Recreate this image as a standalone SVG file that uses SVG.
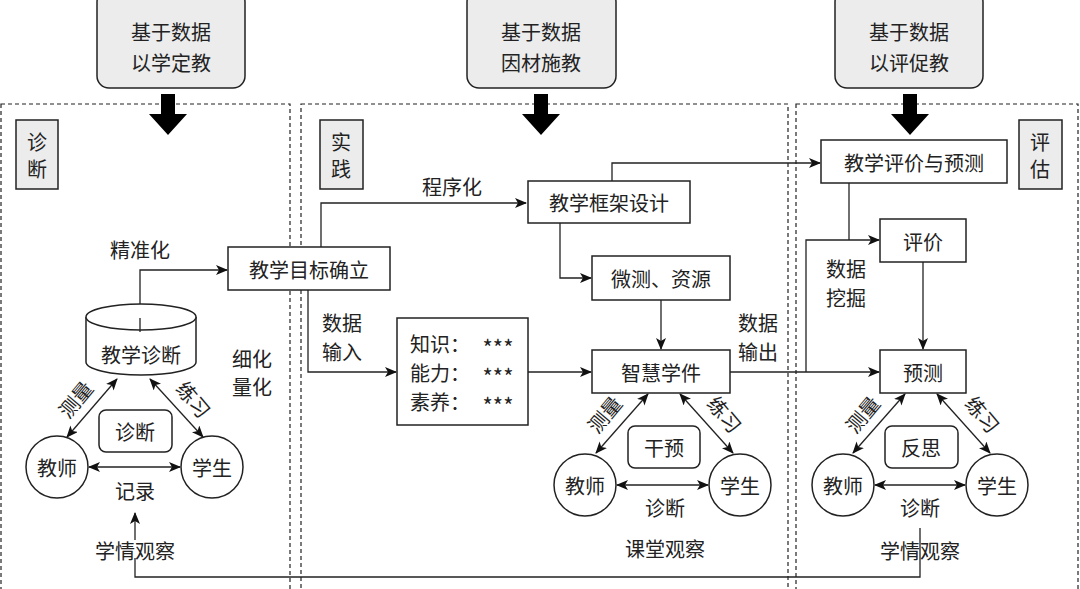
<svg xmlns="http://www.w3.org/2000/svg" width="1080" height="589" viewBox="0 0 1080 589">
<defs>
<marker id="a" viewBox="0 0 12 10" refX="11" refY="5" markerWidth="12" markerHeight="10" markerUnits="userSpaceOnUse" orient="auto-start-reverse"><path d="M0,0 L12,5 L0,10 L3,5 Z" fill="#111"/></marker>
</defs>
<style>
text{font-family:"Noto Sans CJK SC","Liberation Sans",sans-serif;font-size:20px;fill:#222;text-anchor:middle;dominant-baseline:central}
.b{fill:#fff;stroke:#222;stroke-width:1.5}
.g{fill:#ececec;stroke:#222;stroke-width:1.5}
.l{fill:none;stroke:#222;stroke-width:1.3}
.ar{marker-end:url(#a)}
.bi{marker-start:url(#a);marker-end:url(#a)}
.d{fill:none;stroke:#222;stroke-width:1.2;stroke-dasharray:4,3}
.big{fill:#000}
.st{font-size:22px}
</style>
<rect width="1080" height="589" fill="#fff"/>
<g id="panels">
<rect class="d" x="1" y="104" width="289" height="490"/>
<rect class="d" x="301" y="104" width="487" height="490"/>
<rect class="d" x="796" y="104" width="282" height="490"/>
</g>
<g id="top1"><rect class="g" x="97" y="-10" width="148" height="98" rx="12"/><text x="171" y="31">基于数据</text><text x="171" y="62">以学定教</text></g>
<g id="top2"><rect class="g" x="467" y="-10" width="149" height="98" rx="12"/><text x="541" y="31">基于数据</text><text x="541" y="62">因材施教</text></g>
<g id="top3"><rect class="g" x="835" y="-10" width="148" height="98" rx="12"/><text x="909" y="31">基于数据</text><text x="909" y="62">以评促教</text></g>
<g id="bigarrows">
<path class="big" d="M161,94 h14 v20 h12 l-19,21 l-19,-21 h12 z"/>
<path class="big" d="M534,94 h14 v20 h12 l-19,21 l-19,-21 h12 z"/>
<path class="big" d="M903,94 h14 v20 h12 l-19,21 l-19,-21 h12 z"/>
</g>
<g id="lab1"><rect class="g" x="16" y="120" width="42" height="69"/><text x="37" y="141">诊</text><text x="37" y="168">断</text></g>
<g id="lab2"><rect class="g" x="320" y="120" width="43" height="69"/><text x="341" y="141">实</text><text x="341" y="168">践</text></g>
<g id="lab3"><rect class="g" x="1019" y="120" width="43" height="69"/><text x="1040" y="141">评</text><text x="1040" y="168">估</text></g>
<g id="connectors">
<path class="l ar" d="M140,318 V270 H227"/>
<path class="l ar" d="M321,247 V203 H526"/>
<path class="l ar" d="M612,181 V163 H820"/>
<path class="l ar" d="M560,223 V278 H591"/>
<path class="l ar" d="M308,290 V372 H396"/>
<path class="l ar" d="M528,372 H591"/>
<path class="l ar" d="M661,300 V349"/>
<path class="l ar" d="M730,372 H879"/>
<path class="l ar" d="M806,372 V240 H879"/>
<path class="l" d="M849,183 V240"/>
<path class="l ar" d="M923,262 V349"/>
<path class="l ar" d="M135,540 V513"/>
<path class="l" d="M135,558 V577 H920 V528"/>
<path class="l bi" d="M117,379 L67,437"/>
<path class="l bi" d="M150,379 L203,437"/>
<path class="l bi" d="M89,467 H180"/>
<path class="l bi" d="M648,394 L596,453"/>
<path class="l bi" d="M680,394 L733,453"/>
<path class="l bi" d="M617,485 H708"/>
<path class="l bi" d="M905,394 L853,453"/>
<path class="l bi" d="M937,394 L990,453"/>
<path class="l bi" d="M875,485 H965"/>
</g>
<g id="labels">
<text x="140" y="249">精准化</text>
<text x="252" y="358">细化</text><text x="252" y="386">量化</text>
<text x="75" y="399" transform="rotate(-50 75 399)">测量</text>
<text x="194" y="399" transform="rotate(50 194 399)">练习</text>
<text x="135" y="490">记录</text>
<text x="135" y="550">学情观察</text>
<text x="452" y="186">程序化</text>
<text x="342" y="322">数据</text><text x="342" y="351">输入</text>
<text x="758" y="322">数据</text><text x="758" y="351">输出</text>
<text x="846" y="268">数据</text><text x="846" y="297">挖掘</text>
<text x="604" y="414" transform="rotate(-50 604 414)">测量</text>
<text x="725" y="414" transform="rotate(50 725 414)">练习</text>
<text x="665" y="507">诊断</text>
<text x="665" y="548">课堂观察</text>
<text x="862" y="414" transform="rotate(-50 862 414)">测量</text>
<text x="983" y="414" transform="rotate(50 983 414)">练习</text>
<text x="920" y="507">诊断</text>
<text x="920" y="550">学情观察</text>
</g>
<g id="n-goal"><rect class="b" x="228" y="247" width="162" height="43"/><text x="309" y="269">教学目标确立</text></g>
<g id="n-diag"><path class="b" d="M86,317 V362 A55,13 0 0 0 196,362 V317"/><ellipse class="b" cx="141" cy="317" rx="55" ry="13"/><path class="l" d="M140,318 V332"/><text x="141" y="354">教学诊断</text></g>
<g id="n-t1"><circle class="b" cx="57" cy="467" r="31"/><text x="57" y="467">教师</text></g>
<g id="n-s1"><circle class="b" cx="212" cy="467" r="31"/><text x="212" y="467">学生</text></g>
<g id="n-d1"><rect class="b" x="99" y="410" width="73" height="42" rx="7"/><text x="135" y="431">诊断</text></g>
<g id="n-frame"><rect class="b" x="528" y="181" width="162" height="42"/><text x="609" y="202">教学框架设计</text></g>
<g id="n-micro"><rect class="b" x="592" y="256" width="138" height="44"/><text x="661" y="278">微测、资源</text></g>
<g id="n-know"><rect class="b" x="397" y="318" width="131" height="107"/>
<text x="440" y="343">知识：</text><text class="st" x="498" y="346">***</text>
<text x="440" y="372">能力：</text><text class="st" x="498" y="375">***</text>
<text x="440" y="401">素养：</text><text class="st" x="498" y="404">***</text></g>
<g id="n-smart"><rect class="b" x="592" y="350" width="138" height="43"/><text x="661" y="372">智慧学件</text></g>
<g id="n-t2"><circle class="b" cx="585" cy="485" r="31"/><text x="585" y="485">教师</text></g>
<g id="n-s2"><circle class="b" cx="740" cy="485" r="31"/><text x="740" y="485">学生</text></g>
<g id="n-d2"><rect class="b" x="628" y="426" width="72" height="42" rx="7"/><text x="664" y="447">干预</text></g>
<g id="n-evalpred"><rect class="b" x="821" y="140" width="186" height="43"/><text x="914" y="162">教学评价与预测</text></g>
<g id="n-eval"><rect class="b" x="880" y="219" width="86" height="43"/><text x="923" y="241">评价</text></g>
<g id="n-pred"><rect class="b" x="880" y="350" width="86" height="43"/><text x="923" y="372">预测</text></g>
<g id="n-t3"><circle class="b" cx="843" cy="485" r="31"/><text x="843" y="485">教师</text></g>
<g id="n-s3"><circle class="b" cx="997" cy="485" r="31"/><text x="997" y="485">学生</text></g>
<g id="n-d3"><rect class="b" x="885" y="426" width="73" height="42" rx="7"/><text x="921" y="447">反思</text></g>
</svg>
